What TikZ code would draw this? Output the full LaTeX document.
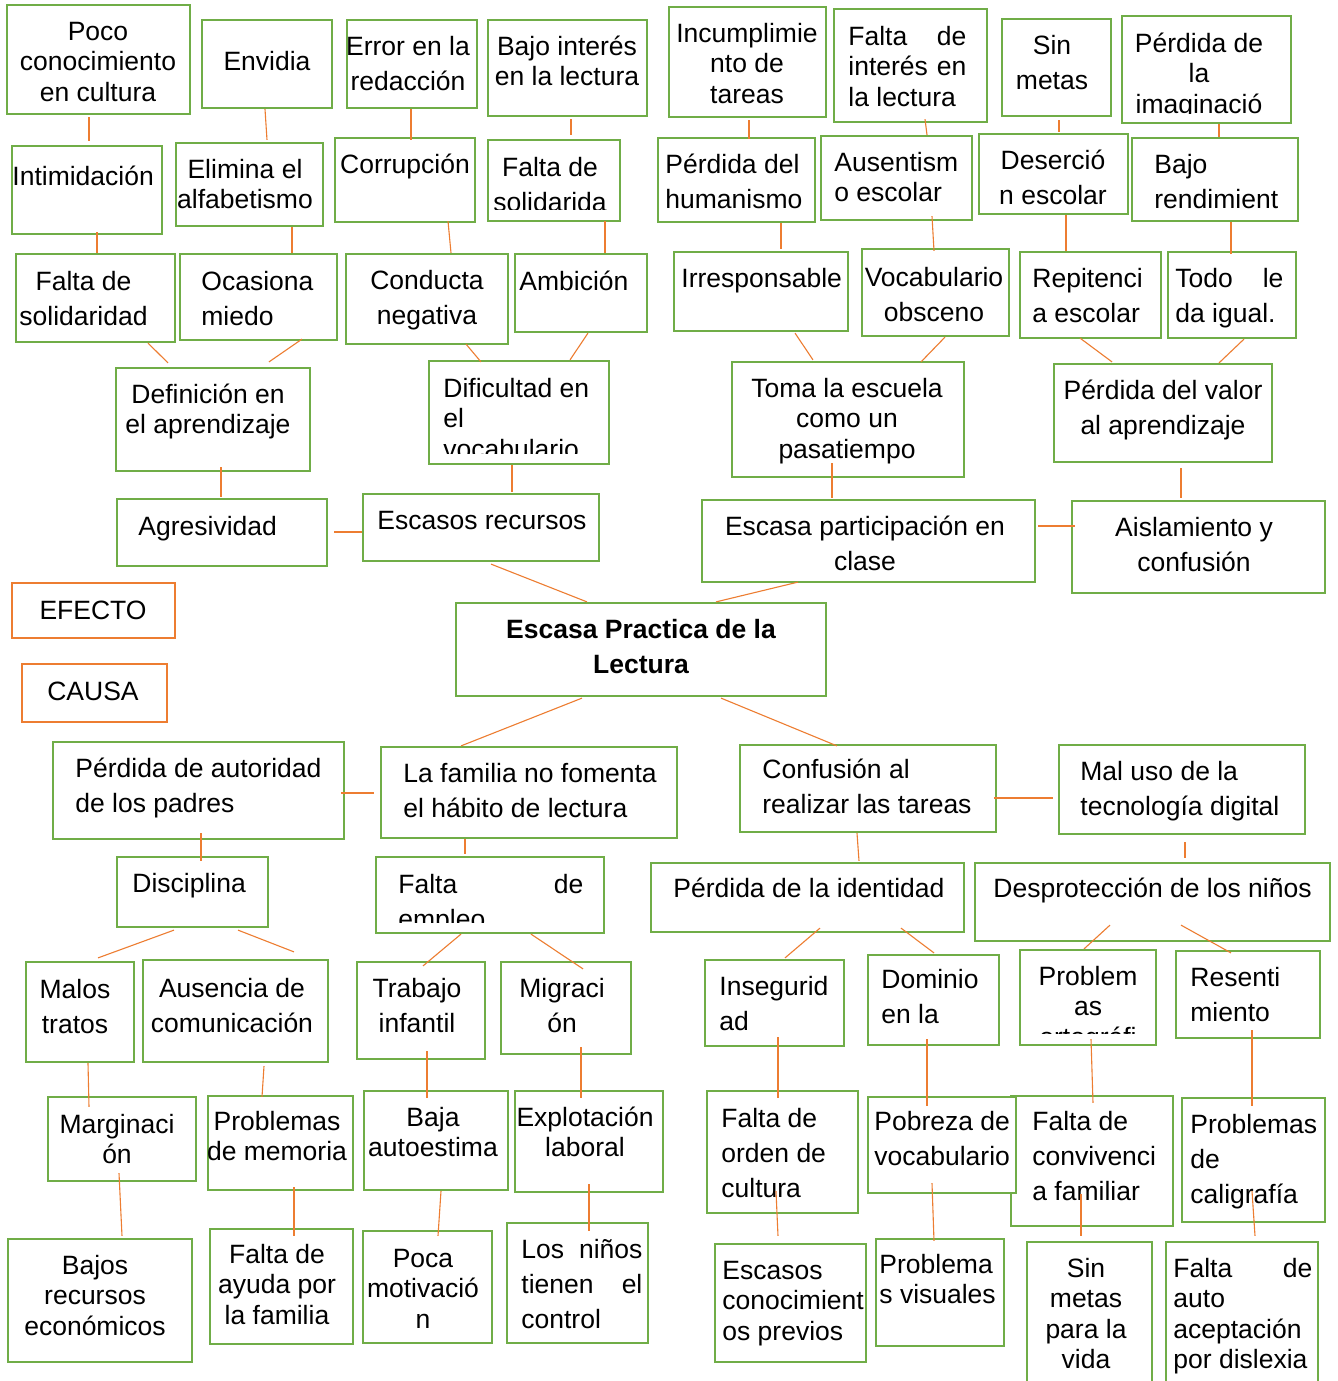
\documentclass[tikz,border=0pt]{standalone}
\usepackage{fontspec}
\setmainfont{Liberation Sans}
\usetikzlibrary{fit}
\definecolor{gbox}{HTML}{70AD47}
\definecolor{obox}{HTML}{ED7D31}
\newcommand\fa{\fontsize{13.25pt}{15.25pt}\selectfont}
\newcommand\fb{\fontsize{13.25pt}{17.5pt}\selectfont}
\newcommand\hs{\rule{0pt}{11pt}}
\newcommand\conn[6]{\draw[con] ([yshift=#3pt]#1.south -| #2,0) -- ([yshift=#6pt]#4.north -| #5,0);}
\newcommand\connh[5]{\draw[con] ([xshift=#2pt]#1.east |- 0,#5) -- ([xshift=#4pt]#3.west |- 0,#5);}
\newcommand\bx[3]{\node[gbx, fit={(#2) (#3)}] (#1) {};}
\tikzset{
  gbx/.style={draw=gbox, line width=1.1pt, fill=white, inner sep=0pt},
  obx/.style={draw=obox, line width=1.1pt, fill=white, inner sep=0pt},
  con/.style={draw=obox, line width=0.55pt},
  tc/.style={anchor=north, align=center, inner sep=0pt, yshift=11pt, font=\fa, text=black},
  tl/.style={anchor=north west, align=left, inner sep=0pt, yshift=11pt, font=\fa, text=black},
  sp35/.style={font=\fb},
}
\begin{document}
\begin{tikzpicture}[x=0.5pt,y=-0.5pt]
\useasboundingbox (0,0) rectangle (1338,1381);
\clip (0,0) rectangle (1338,1381);
\fill[white] (0,0) rectangle (1338,1381);

% ---------- top rows (effects) ----------
\bx{poco}{7,5}{190,114}
\node[tc] (poco-t) at (98,40) {\hs Poco\\conocimiento\\en cultura};
\bx{envidia}{202,20}{332,108}
\node[tc] (envidia-t) at (267,70) {\hs Envidia};
\bx{error}{347,20}{477,108}
\node[tc,sp35] (error-t) at (408,55) {\hs Error en la\\redacción};
\bx{bajoint}{488,20}{647,116}
\node[tc] (bajoint-t) at (567,55) {\hs Bajo interés\\en la lectura};
\bx{incump}{669,7}{826,117}
\node[tc] (incump-t) at (747,42) {\hs Incumplimie\\nto de\\tareas};
\bx{faltaint}{834,9}{987,122}
\node[tl] (faltaint-t) at (848,45) {\hs\makebox[59pt]{Falta\hfill de}\\\makebox[59pt]{interés\hfill en}\\la lectura};
\bx{sinmetas}{1002,19}{1111,116}
\node[tc,sp35] (sinmetas-t) at (1052,54) {\hs Sin\\metas};
\bx{perdimag}{1122,16}{1291,123}
\begin{scope}
\clip (1122,16) rectangle (1291,113);
\node[tc] (perdimag-t) at (1199,52) {\hs Pérdida de\\la\\imaginació};
\end{scope}

\bx{intim}{12,146}{162,234}
\node[tl] (intim-t) at (12,185) {\hs Intimidación};
\bx{elimina}{176,143}{323,226}
\node[tc] (elimina-t) at (245,178) {\hs Elimina el\\alfabetismo};
\bx{corrup}{335,138}{475,222}
\node[tc] (corrup-t) at (405,173) {\hs Corrupción};
\bx{faltasolid}{488,140}{620,221}
\begin{scope}
\clip (488,140) rectangle (620,209);
\node[tc,sp35] (faltasolid-t) at (550,176) {\hs Falta de\\solidarida};
\end{scope}
\bx{perdhum}{658,138}{815,222}
\node[tl,sp35] (perdhum-t) at (665,173) {\hs Pérdida del\\humanismo};
\bx{ausent}{821,136}{972,220}
\node[tl] (ausent-t) at (834,171) {\hs Ausentism\\o escolar};
\bx{desercion}{979,134}{1128,214}
\begin{scope}
\clip (979,134) rectangle (1128,205);
\node[tc,sp35] (desercion-t) at (1053,169) {\hs Deserció\\n escolar};
\end{scope}
\bx{bajorend}{1132,138}{1298,221}
\node[tl,sp35] (bajorend-t) at (1154,173) {\hs Bajo\\rendimient};

\bx{faltasolidad}{16,254}{175,342}
\node[tc,sp35] (faltasolidad-t) at (83.5,290) {\hs Falta de\\solidaridad};
\bx{ocasiona}{180,254}{337,340}
\node[tl,sp35] (ocasiona-t) at (201,290) {\hs Ocasiona\\miedo};
\bx{conducta}{346,254}{508,344}
\node[tc,sp35] (conducta-t) at (427,289) {\hs Conducta\\negativa};
\bx{ambicion}{515,254}{647,332}
\node[tl] (ambicion-t) at (519,290) {\hs Ambición};
\bx{irresp}{674,252}{848,331}
\node[tl] (irresp-t) at (681,287) {\hs Irresponsable};
\bx{vocab}{862,249}{1009,336}
\node[tc,sp35] (vocab-t) at (934,286) {\hs Vocabulario\\obsceno};
\bx{repit}{1020,252}{1161,338}
\node[tl,sp35] (repit-t) at (1032,287) {\hs Repitenci\\a escolar};
\bx{todo}{1168,252}{1296,338}
\node[tl,sp35] (todo-t) at (1175,287) {\hs\makebox[54pt]{Todo\hfill le}\\da igual.};

\bx{defin}{116,368}{310,471}
\node[tc] (defin-t) at (208,403) {\hs Definición en\\el aprendizaje};
\bx{dific}{429,361}{609,464}
\begin{scope}
\clip (429,361) rectangle (609,453);
\node[tl] (dific-t) at (443,397) {\hs Dificultad en\\el\\vocabulario};
\end{scope}
\bx{toma}{732,362}{964,477}
\node[tc] (toma-t) at (847,397) {\hs Toma la escuela\\como un\\pasatiempo};
\bx{perdval}{1054,364}{1272,462}
\node[tc,sp35] (perdval-t) at (1163,399) {\hs Pérdida del valor\\al aprendizaje};

\bx{agres}{117,499}{327,566}
\node[tl] (agres-t) at (138,535) {\hs Agresividad};
\bx{escrec}{363,494}{599,561}
\node[tl] (escrec-t) at (377,529) {\hs Escasos recursos};
\bx{escpart}{702,500}{1035,582}
\node[tc,sp35] (escpart-t) at (865,535) {\hs Escasa participación en\\clase};
\bx{aislam}{1072,501}{1325,593}
\node[tc,sp35] (aislam-t) at (1194,536) {\hs Aislamiento y\\confusión};

% ---------- legend ----------
\node[obx, fit={(12,583) (175,638)}] (efecto) {};
\node[tc] (efecto-t) at (93,619) {\hs EFECTO};
\node[obx, fit={(22,664) (167,722)}] (causa) {};
\node[tc] (causa-t) at (93,700) {\hs CAUSA};

% ---------- central problem ----------
\bx{central}{456,603}{826,696}
\node[tc, font=\fb\bfseries] (central-t) at (641,638) {\hs Escasa Practica de la\\Lectura};

% ---------- bottom rows (causes) ----------
\bx{perdaut}{53,742}{344,839}
\node[tl,sp35] (perdaut-t) at (75,777) {\hs Pérdida de autoridad\\de los padres};
\bx{familia}{381,747}{677,838}
\node[tl,sp35] (familia-t) at (403,782) {\hs La familia no fomenta\\el hábito de lectura};
\bx{confus}{740,745}{996,832}
\node[tl,sp35] (confus-t) at (762,778) {\hs Confusión al\\realizar las tareas};
\bx{maluso}{1059,745}{1305,834}
\node[tl,sp35] (maluso-t) at (1080,780) {\hs Mal uso de la\\tecnología digital};

\bx{discip}{117,857}{268,927}
\node[tl] (discip-t) at (132,892) {\hs Disciplina};
\bx{faltaemp}{376,857}{604,933}
\begin{scope}
\clip (376,857) rectangle (604,922);
\node[tl,sp35] (faltaemp-t) at (398,893) {\hs\makebox[92.5pt]{Falta\hfill de}\\empleo};
\end{scope}
\bx{perdid}{651,863}{964,932}
\node[tl] (perdid-t) at (673,897) {\hs Pérdida de la identidad};
\bx{desprot}{975,863}{1330,941}
\node[tl] (desprot-t) at (993,897) {\hs Desprotección de los niños};

\bx{malos}{26,962}{134,1062}
\node[tc,sp35] (malos-t) at (75,998) {\hs Malos\\tratos};
\bx{ausen}{143,960}{328,1062}
\node[tc,sp35] (ausen-t) at (232,997) {\hs Ausencia de\\comunicación};
\bx{trabajo}{357,962}{485,1059}
\node[tc,sp35] (trabajo-t) at (417,997) {\hs Trabajo\\infantil};
\bx{migra}{501,962}{631,1054}
\node[tc,sp35] (migra-t) at (562,997) {\hs Migraci\\ón};
\bx{insegur}{705,960}{844,1046}
\node[tl,sp35] (insegur-t) at (719,995) {\hs Insegurid\\ad};
\bx{dominio}{868,955}{999,1045}
\node[tl,sp35] (dominio-t) at (881,988) {\hs Dominio\\en la};
\bx{probort}{1020,950}{1156,1045}
\begin{scope}
\clip (1020,950) rectangle (1156,1033);
\node[tc] (probort-t) at (1088,985) {\hs Problem\\as\\ortográfi};
\end{scope}
\bx{resent}{1176,951}{1320,1038}
\node[tl,sp35] (resent-t) at (1190,986) {\hs Resenti\\miento};

\bx{margin}{48,1097}{196,1181}
\node[tc] (margin-t) at (117,1133) {\hs Marginaci\\ón};
\bx{probmem}{208,1096}{353,1190}
\node[tc] (probmem-t) at (277,1130) {\hs Problemas\\de memoria};
\bx{baja}{364,1091}{508,1190}
\node[tc] (baja-t) at (433,1126) {\hs Baja\\autoestima};
\bx{explot}{515,1091}{663,1192}
\node[tc] (explot-t) at (585,1126) {\hs Explotación\\laboral};
\bx{faltaord}{707,1091}{858,1213}
\node[tl,sp35] (faltaord-t) at (721,1127) {\hs Falta de\\orden de\\cultura};
\bx{faltaconv}{1011,1096}{1173,1226}
\node[tl,sp35] (faltaconv-t) at (1032,1130) {\hs Falta de\\convivenci\\a familiar};
\bx{pobreza}{868,1097}{1016,1193}
\node[tl,sp35] (pobreza-t) at (874,1130) {\hs Pobreza de\\vocabulario};
\bx{probcal}{1182,1098}{1325,1222}
\node[tl,sp35] (probcal-t) at (1190,1133) {\hs Problemas\\de\\caligrafía};

\bx{bajosrec}{8,1239}{192,1362}
\node[tc] (bajosrec-t) at (95,1274) {\hs Bajos\\recursos\\económicos};
\bx{faltaayuda}{210,1229}{353,1344}
\node[tc] (faltaayuda-t) at (277,1263) {\hs Falta de\\ayuda por\\la familia};
\bx{poca}{363,1231}{492,1343}
\node[tc] (poca-t) at (423,1267) {\hs Poca\\motivació\\n};
\bx{losninos}{507,1223}{648,1343}
\node[tl,sp35] (losninos-t) at (521,1258) {\hs\makebox[60.5pt]{Los\hfill niños}\\\makebox[60.5pt]{tienen\hfill el}\\control};
\bx{escconoc}{715,1244}{866,1362}
\node[tl] (escconoc-t) at (722,1279) {\hs Escasos\\conocimient\\os previos};
\bx{probvis}{876,1239}{1004,1346}
\node[tl] (probvis-t) at (879,1273) {\hs Problema\\s visuales};
\bx{sinmetasv}{1027,1242}{1152,1395}
\node[tc] (sinmetasv-t) at (1086,1277) {\hs Sin\\metas\\para la\\vida};
\bx{faltaauto}{1166,1242}{1318,1395}
\node[tl] (faltaauto-t) at (1173,1277) {\hs\makebox[69.5pt]{Falta\hfill de}\\auto\\aceptación\\por dislexia};

% ---------- connectors ----------
\conn{poco}{89}{-1}{intim}{89}{2}
\conn{envidia}{265}{0}{elimina}{267}{1}
\conn{error}{411}{0}{corrup}{411}{-1.5}
\conn{bajoint}{571}{-1}{faltasolid}{571}{2}
\conn{incump}{749}{-1}{perdhum}{749}{-1}
\conn{faltaint}{925}{2}{ausent}{927}{0}
\conn{sinmetas}{1059}{-1.5}{desercion}{1059}{0.5}
\conn{perdimag}{1219}{0}{bajorend}{1219}{0}
\conn{intim}{97}{1.5}{faltasolidad}{97}{0}
\conn{elimina}{292}{0}{ocasiona}{292}{0}
\conn{corrup}{448}{1}{conducta}{451}{0}
\conn{faltasolid}{605}{0.5}{ambicion}{605}{0}
\conn{perdhum}{781}{0}{irresp}{781}{1}
\conn{ausent}{932}{2.5}{vocab}{934}{-1.5}
\conn{desercion}{1066}{0}{repit}{1066}{0}
\conn{bajorend}{1231}{0}{todo}{1231}{-1.5}
\conn{faltasolidad}{148}{0}{defin}{168}{2}
\conn{ocasiona}{302}{1}{defin}{269}{2.5}
\conn{conducta}{466}{0.5}{dific}{481}{-1}
\conn{ambicion}{588}{0}{dific}{570}{0}
\conn{irresp}{795}{-0.5}{toma}{813}{0.5}
\conn{vocab}{945}{0}{toma}{921}{-0.5}
\conn{repit}{1080}{0.5}{perdval}{1112}{0.5}
\conn{todo}{1244}{0}{perdval}{1219}{0}
\conn{defin}{221}{2.5}{agres}{221}{0.5}
\conn{dific}{512}{0}{escrec}{512}{0.5}
\conn{toma}{832}{7.5}{escpart}{832}{0.5}
\conn{perdval}{1181}{-2.5}{aislam}{1181}{1}
\connh{agres}{3}{escrec}{0}{532}
\connh{escpart}{1}{aislam}{2}{526}
\conn{escrec}{491}{-1}{central}{587}{0}
\conn{escpart}{798}{0.5}{central}{716}{0}
\conn{central}{582}{-0.5}{familia}{461}{0}
\conn{central}{721}{-0.5}{confus}{837}{-1}
\connh{perdaut}{-2}{familia}{-3}{793}
\connh{confus}{-1.5}{maluso}{-2.5}{798}
\conn{perdaut}{201}{3.5}{discip}{201}{-2.5}
\conn{familia}{465}{0}{faltaemp}{465}{1}
\conn{confus}{857}{0}{perdid}{859}{0.5}
\conn{maluso}{1185}{-3.5}{desprot}{1185}{2}
\conn{discip}{174}{-1}{malos}{98}{1.5}
\conn{discip}{238}{-1}{ausen}{294}{3.5}
\conn{faltaemp}{461}{0}{trabajo}{423}{-2.5}
\conn{faltaemp}{531}{0}{migra}{583}{-4}
\conn{perdid}{820}{2.5}{insegur}{785}{0.5}
\conn{perdid}{901}{2.5}{dominio}{934}{0.5}
\conn{desprot}{1110}{8.5}{probort}{1084}{0}
\conn{desprot}{1181}{8.5}{resent}{1231}{-1.5}
\conn{malos}{88}{0}{margin}{89}{-5.5}
\conn{ausen}{264}{-1.5}{probmem}{262}{-1}
\conn{trabajo}{427}{4.5}{baja}{427}{-4}
\conn{migra}{581}{4}{explot}{581}{-4}
\conn{insegur}{778}{5}{faltaord}{778}{-4}
\conn{dominio}{927}{3.5}{pobreza}{927}{-5}
\conn{probort}{1091}{3.5}{faltaconv}{1093}{-4}
\conn{resent}{1252}{4.5}{probcal}{1252}{-4.5}
\conn{margin}{119}{4.5}{bajosrec}{122}{1}
\conn{probmem}{294}{2}{faltaayuda}{294}{-4}
\conn{baja}{441}{0}{poca}{438}{-3}
\conn{explot}{589}{4.5}{losninos}{589}{-4.5}
\conn{faltaord}{776}{11.5}{escconoc}{778}{3.5}
\conn{pobreza}{932}{5.5}{probvis}{934}{-1.5}
\conn{faltaconv}{1081}{16.5}{sinmetasv}{1081}{2.5}
\conn{probcal}{1252}{16}{faltaauto}{1255}{2.5}
\end{tikzpicture}
\end{document}
